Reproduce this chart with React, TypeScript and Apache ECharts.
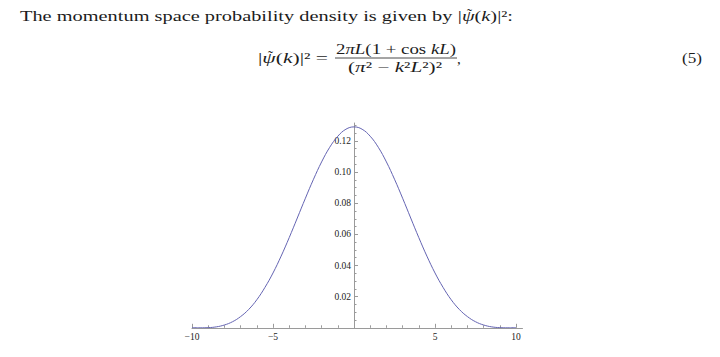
import React, { useEffect, useRef } from "react";
import * as echarts from "echarts";

// wave number k (x axis)
const kValues = [
  -10, -9.5, -9, -8.5, -8, -7.5, -7, -6.5, -6, -5.5, -5, -4.5, -4, -3.5, -3, -2.5, -2, -1.5, -1, -0.5,
  0, 0.5, 1, 1.5, 2, 2.5, 3, 3.5, 4, 4.5, 5, 5.5, 6, 6.5, 7, 7.5, 8, 8.5, 9, 9.5, 10,
];
// probability density |psi(k)|^2
const density = [
  0.0001, 0.0, 0.0001, 0.0006, 0.0018, 0.0039, 0.0072, 0.0118, 0.018, 0.0259, 0.0352, 0.046, 0.0579, 0.0705,
  0.0832, 0.0954, 0.1065, 0.1159, 0.123, 0.1275, 0.129, 0.1275, 0.123, 0.1159, 0.1065, 0.0954, 0.0832,
  0.0705, 0.0579, 0.046, 0.0352, 0.0259, 0.018, 0.0118, 0.0072, 0.0039, 0.0018, 0.0006, 0.0001, 0.0, 0.0001,
];
const xMajorTicks = [-10, -5, 0, 5, 10];
const xMinorTicks = [-9, -8, -7, -6, -4, -3, -2, -1, 1, 2, 3, 4, 6, 7, 8, 9];
const xTickLabels = [-10, -5, 5, 10];
const yMajorTicks = [0.02, 0.04, 0.06, 0.08, 0.1, 0.12];
const yMinorTicks = [
  0.005, 0.01, 0.015, 0.025, 0.03, 0.035, 0.045, 0.05, 0.055, 0.065, 0.07, 0.075, 0.085, 0.09, 0.095, 0.105,
  0.11, 0.115, 0.125, 0.13,
];

const FAMILY = "Liberation Serif";
const TEXT_COLOR = "#1c1c1c";
const AXIS_COLOR = "#9a9a9a";

// plot geometry
const GRID_LEFT = 192;
const GRID_WIDTH = 330.5;
const X_MIN = -10;
const X_MAX = 10.4;

type Seg = [string, boolean];

let measureCtx: CanvasRenderingContext2D | null = null;
function measure(segs: Seg[], size: number): number {
  if (!measureCtx) measureCtx = document.createElement("canvas").getContext("2d")!;
  let w = 0;
  for (const [t, it] of segs) {
    measureCtx.font = `${it ? "italic " : ""}${size}px "${FAMILY}"`;
    w += measureCtx.measureText(t).width;
  }
  return w;
}

function richString(segs: Seg[]): string {
  return segs.map(([t, it]) => `{${it ? "i" : "r"}|${t}}`).join("");
}

function richEl(segs: Seg[], size: number, x: number, y: number, align: string, vAlign: string, scale: number) {
  return {
    type: "text",
    x,
    y,
    scaleX: scale,
    scaleY: 1,
    silent: true,
    style: {
      text: richString(segs),
      x: 0,
      y: 0,
      align,
      verticalAlign: vAlign,
      fill: TEXT_COLOR,
      fontSize: size,
      fontFamily: FAMILY,
      rich: {
        r: { fontSize: size, fontFamily: FAMILY, fill: TEXT_COLOR },
        i: { fontSize: size, fontFamily: FAMILY, fontStyle: "italic", fill: TEXT_COLOR },
      },
    },
  };
}

// tilde accent placed over the glyph that follows `before`
function tildeEl(before: Seg[], glyph: Seg, size: number, left: number, scale: number, y: number) {
  const cx = left + (measure(before, size) + measure([glyph], size) / 2 + 1) * scale;
  return {
    type: "text",
    x: cx,
    y,
    silent: true,
    style: {
      text: "˜",
      x: 0,
      y: 0,
      align: "center",
      verticalAlign: "middle",
      fill: TEXT_COLOR,
      fontSize: size,
      fontFamily: FAMILY,
    },
  };
}

export default function App() {
  const ref = useRef<HTMLDivElement>(null);

  useEffect(() => {
    if (!ref.current) return;
    const chart = echarts.init(ref.current, null, { renderer: "svg" });

    const size = 15;
    const prose: Seg[] = [["The momentum space probability density is given by ", false]];
    const psiInline: Seg[] = [
      ["|", false],
      ["ψ", true],
      ["(", false],
      ["k", true],
      [")|²:", false],
    ];
    const lhs: Seg[] = [
      ["|", false],
      ["ψ", true],
      ["(", false],
      ["k", true],
      [")|² =", false],
    ];
    const numer: Seg[] = [
      ["2", false],
      ["πL", true],
      ["(1 + cos ", false],
      ["kL", true],
      [")", false],
    ];
    const denom: Seg[] = [
      ["(", false],
      ["π", true],
      ["² − ", false],
      ["k", true],
      ["²", false],
      ["L", true],
      ["²)²", false],
    ];

    // line 1 spans x 20..513
    const line1Left = 20;
    const line1Scale = 493 / measure([...prose, ...psiInline], size);
    const proseW = measure(prose, size) * line1Scale;
    const line1Y = 16;

    // equation
    const barY = 58;
    const lhsLeft = 258;
    const lhsScale = 70 / measure(lhs, size);
    const numScale = 120 / measure(numer, size);
    const denScale = 94 / measure(denom, size);
    const fiveScale = 20 / measure([["(5)", false]], size);

    const labelFmt = (v: number) => (v < 0 ? "−" + Math.abs(v) : String(v));
    const yOffset = -((0 - X_MIN) / (X_MAX - X_MIN)) * GRID_WIDTH;

    chart.setOption({
      animation: false,
      backgroundColor: "#ffffff",
      grid: { left: GRID_LEFT, width: GRID_WIDTH, top: 123, bottom: 29.2, containLabel: false },
      xAxis: [
        {
          type: "value",
          min: X_MIN,
          max: X_MAX,
          position: "bottom",
          axisLine: { show: true, onZero: false, lineStyle: { color: AXIS_COLOR, width: 1 } },
          axisTick: { show: true, inside: true, length: 4, customValues: xMajorTicks, lineStyle: { color: AXIS_COLOR } },
          axisLabel: {
            show: true,
            customValues: xTickLabels,
            formatter: labelFmt,
            fontFamily: FAMILY,
            fontSize: 9.5,
            color: "#222",
            margin: 4,
          },
          splitLine: { show: false },
        },
        {
          type: "value",
          min: X_MIN,
          max: X_MAX,
          position: "bottom",
          axisLine: { show: false, onZero: false },
          axisTick: { show: true, inside: true, length: 2.5, customValues: xMinorTicks, lineStyle: { color: AXIS_COLOR } },
          axisLabel: { show: false },
          splitLine: { show: false },
        },
      ],
      yAxis: [
        {
          type: "value",
          min: 0,
          max: 0.1315,
          position: "left",
          offset: yOffset,
          axisLine: { show: true, onZero: false, lineStyle: { color: AXIS_COLOR, width: 1 } },
          axisTick: { show: true, inside: true, length: 4, customValues: yMajorTicks, lineStyle: { color: AXIS_COLOR } },
          axisLabel: {
            show: true,
            customValues: yMajorTicks,
            formatter: (v: number) => v.toFixed(2),
            fontFamily: FAMILY,
            fontSize: 9.5,
            color: "#222",
            margin: 3,
          },
          splitLine: { show: false },
        },
        {
          type: "value",
          min: 0,
          max: 0.1315,
          position: "left",
          offset: yOffset,
          axisLine: { show: false, onZero: false },
          axisTick: { show: true, inside: true, length: 2.5, customValues: yMinorTicks, lineStyle: { color: AXIS_COLOR } },
          axisLabel: { show: false },
          splitLine: { show: false },
        },
      ],
      series: [
        {
          type: "line",
          xAxisIndex: 0,
          yAxisIndex: 0,
          data: kValues.map((k, i) => [k, density[i]]),
          showSymbol: false,
          smooth: 0.4,
          lineStyle: { color: "#6464b2", width: 1 },
          z: 5,
        },
      ],
      graphic: [
        {
          type: "text",
          x: line1Left,
          y: line1Y,
          scaleX: line1Scale,
          silent: true,
          style: {
            text: prose[0][0],
            x: 0,
            y: 0,
            align: "left",
            verticalAlign: "middle",
            fill: TEXT_COLOR,
            fontSize: size,
            fontFamily: FAMILY,
          },
        },
        richEl(psiInline, size, line1Left + proseW, line1Y, "left", "middle", line1Scale),
        tildeEl([["|", false]], ["ψ", true], size, line1Left + proseW, line1Scale, line1Y - 2.5),
        richEl(lhs, size, lhsLeft, barY, "left", "middle", lhsScale),
        tildeEl([["|", false]], ["ψ", true], size, lhsLeft, lhsScale, barY - 2.5),
        richEl(numer, size, 396, barY - 1, "center", "bottom", numScale),
        {
          type: "line",
          silent: true,
          shape: { x1: 335, y1: barY, x2: 457, y2: barY },
          style: { stroke: TEXT_COLOR, lineWidth: 0.8 },
        },
        richEl(denom, size, 395, barY + 1.5, "center", "top", denScale),
        {
          type: "text",
          x: 457,
          y: barY + 1,
          silent: true,
          style: { text: ",", x: 0, y: 0, fontSize: size, fontFamily: FAMILY, fill: TEXT_COLOR, align: "left", verticalAlign: "middle" },
        },
        richEl([["(5)", false]], size, 702, barY, "right", "middle", fiveScale),
      ],
    });

    return () => chart.dispose();
  }, []);

  return (
    <div
      ref={ref}
      style={{ position: "absolute", left: 0, top: 0, width: 720, height: 357, background: "#fff" }}
    />
  );
}
